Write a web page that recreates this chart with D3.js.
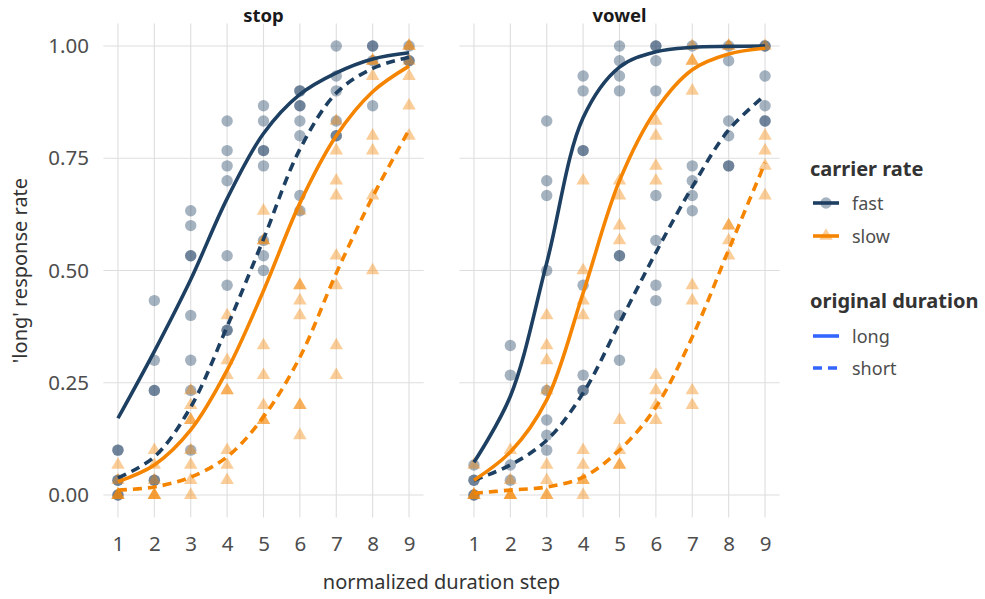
<!DOCTYPE html>
<html>
<head>
<meta charset="utf-8">
<script src="https://cdn.jsdelivr.net/npm/d3@7"></script>
<style>
  body { margin: 0; background: #fff; }
  text { font-family: "Noto Sans", "Open Sans", sans-serif; }
</style>
</head>
<body>
<script>
// facetted psychometric curves, one panel per segment type

var width = 985;
var height = 599;

var steps = [1, 2, 3, 4, 5, 6, 7, 8, 9];
var panels = ["stop", "vowel"];
var yTicks = [0, 0.25, 0.5, 0.75, 1];

// observed response rates, one entry per step: [step, values]
var stopFast = [
  [1, [0.1, 0.1, 0.033, 0.033, 0, 0]],
  [2, [0.433, 0.3, 0.233, 0.233, 0.033, 0.033]],
  [3, [0.633, 0.6, 0.533, 0.533, 0.4, 0.3, 0.233, 0.1]],
  [4, [0.833, 0.767, 0.733, 0.7, 0.533, 0.467, 0.367, 0.367]],
  [5, [0.867, 0.833, 0.767, 0.767, 0.733, 0.567, 0.533, 0.5]],
  [6, [0.9, 0.9, 0.867, 0.867, 0.833, 0.8, 0.667, 0.633]],
  [7, [1, 0.933, 0.9, 0.833, 0.8, 0.8]],
  [8, [1, 1, 0.967, 0.867]],
  [9, [1, 0.967, 0.967]]
];
var stopSlow = [
  [1, [0.067, 0.033, 0, 0, 0]],
  [2, [0.1, 0.067, 0.033, 0, 0, 0]],
  [3, [0.233, 0.2, 0.167, 0.167, 0.1, 0.067, 0.033, 0]],
  [4, [0.4, 0.3, 0.267, 0.233, 0.233, 0.1, 0.067, 0.033]],
  [5, [0.633, 0.567, 0.567, 0.333, 0.267, 0.2, 0.167, 0.167]],
  [6, [0.633, 0.467, 0.467, 0.433, 0.4, 0.2, 0.2, 0.133]],
  [7, [0.833, 0.767, 0.7, 0.667, 0.533, 0.467, 0.333, 0.267]],
  [8, [0.967, 0.967, 0.933, 0.8, 0.767, 0.667, 0.5]],
  [9, [1, 1, 0.967, 0.933, 0.867, 0.8]]
];
var vowelFast = [
  [1, [0.067, 0.033, 0.033, 0, 0]],
  [2, [0.333, 0.267, 0.067, 0.033]],
  [3, [0.833, 0.7, 0.667, 0.5, 0.233, 0.167, 0.133, 0.1]],
  [4, [0.933, 0.9, 0.767, 0.767, 0.467, 0.267, 0.233, 0.233]],
  [5, [1, 0.967, 0.933, 0.9, 0.533, 0.533, 0.4, 0.3]],
  [6, [1, 1, 0.967, 0.9, 0.667, 0.567, 0.467, 0.433]],
  [7, [1, 0.733, 0.7, 0.667, 0.633]],
  [8, [1, 0.967, 0.833, 0.8, 0.733, 0.733]],
  [9, [1, 1, 0.933, 0.867, 0.833, 0.833]]
];
var vowelSlow = [
  [1, [0.067, 0, 0, 0]],
  [2, [0.1, 0.033, 0, 0, 0]],
  [3, [0.4, 0.333, 0.3, 0.233, 0.067, 0.033, 0, 0]],
  [4, [0.7, 0.5, 0.433, 0.4, 0.1, 0.067, 0.033, 0.033, 0]],
  [5, [0.7, 0.667, 0.6, 0.567, 0.167, 0.1, 0.067, 0.067]],
  [6, [0.833, 0.8, 0.733, 0.7, 0.267, 0.233, 0.2, 0.167]],
  [7, [1, 0.967, 0.967, 0.9, 0.467, 0.433, 0.233, 0.2]],
  [8, [1, 1, 0.6, 0.6, 0.567, 0.533]],
  [9, [1, 0.8, 0.767, 0.733, 0.667]]
];

// fitted curves read at each step
var stopFastLong  = [0.171, 0.32, 0.48, 0.66, 0.805, 0.892, 0.94, 0.971, 0.985];
var stopFastShort = [0.038, 0.085, 0.196, 0.375, 0.57, 0.77, 0.895, 0.95, 0.975];
var stopSlowLong  = [0.03, 0.067, 0.145, 0.278, 0.455, 0.65, 0.8, 0.898, 0.955];
var stopSlowShort = [0.011, 0.018, 0.04, 0.085, 0.174, 0.307, 0.494, 0.664, 0.813];
var vowelFastLong  = [0.073, 0.22, 0.517, 0.84, 0.953, 0.987, 0.997, 0.999, 1.0];
var vowelFastShort = [0.033, 0.067, 0.122, 0.227, 0.383, 0.54, 0.686, 0.813, 0.89];
var vowelSlowLong  = [0.033, 0.096, 0.212, 0.45, 0.7, 0.857, 0.947, 0.982, 0.995];
var vowelSlowShort = [0.004, 0.011, 0.018, 0.04, 0.1, 0.196, 0.352, 0.546, 0.74];

var navy = "#1d3f62";
var orange = "#f58500";
var keyBlue = "#3366ff";

var panelData = {
  stop: {
    pts: [{rate: "fast", rows: stopFast}, {rate: "slow", rows: stopSlow}],
    curves: [
      {rate: "fast", dur: "long", v: stopFastLong},
      {rate: "fast", dur: "short", v: stopFastShort},
      {rate: "slow", dur: "long", v: stopSlowLong},
      {rate: "slow", dur: "short", v: stopSlowShort}
    ]
  },
  vowel: {
    pts: [{rate: "fast", rows: vowelFast}, {rate: "slow", rows: vowelSlow}],
    curves: [
      {rate: "fast", dur: "long", v: vowelFastLong},
      {rate: "fast", dur: "short", v: vowelFastShort},
      {rate: "slow", dur: "long", v: vowelSlowLong},
      {rate: "slow", dur: "short", v: vowelSlowShort}
    ]
  }
};

var svg = d3.select("body").append("svg")
    .attr("width", width)
    .attr("height", height);

var panelLeft = [103.4, 459.4];
var panelW = 320.2;

var y = d3.scaleLinear().domain([-0.05, 1.05]).range([517.5, 23.5]);

var colorOf = function(r) { return r == "fast" ? navy : orange; };
var triangle = d3.symbol().type(d3.symbolTriangle).size(78);

panels.forEach(function(name, i) {
  var x = d3.scaleLinear().domain([0.6, 9.4]).range([panelLeft[i], panelLeft[i] + panelW]);
  var g = svg.append("g");

  // grid
  g.selectAll("line.hg").data(yTicks).enter().append("line")
    .attr("x1", x.range()[0]).attr("x2", x.range()[1])
    .attr("y1", function(d) { return y(d); }).attr("y2", function(d) { return y(d); })
    .attr("stroke", "#dedede").attr("stroke-width", 1.1);
  g.selectAll("line.vg").data(steps).enter().append("line")
    .attr("x1", function(d) { return x(d); }).attr("x2", function(d) { return x(d); })
    .attr("y1", y.range()[0]).attr("y2", y.range()[1])
    .attr("stroke", "#dedede").attr("stroke-width", 1.1);

  // x axis labels
  var xAxis = d3.axisBottom(x).tickValues(steps).tickSize(0).tickPadding(0);
  var ax = g.append("g").attr("transform", "translate(0," + 551 + ")").call(xAxis);
  ax.select(".domain").remove();
  ax.selectAll("text").attr("font-size", 20.5).attr("fill", "#4d4d4d")
    .attr("font-family", "'Noto Sans', sans-serif").attr("dy", null).attr("y", 0);

  // strip title
  g.append("text").attr("x", x(5)).attr("y", 22)
    .attr("text-anchor", "middle").attr("font-size", 18.5).attr("font-weight", "bold")
    .attr("fill", "#1a1a1a").text(name);

  // points
  var pd = panelData[name];
  pd.pts.forEach(function(s) {
    var flat = [];
    s.rows.forEach(function(r) {
      r[1].forEach(function(v) { flat.push({step: r[0], v: v}); });
    });
    if (s.rate == "fast") {
      g.selectAll("circle." + s.rate).data(flat).enter().append("circle")
        .attr("cx", function(d) { return x(d.step); })
        .attr("cy", function(d) { return y(d.v); })
        .attr("r", 5.7)
        .attr("fill", navy).attr("opacity", 0.4);
    } else {
      g.selectAll("path.tri").data(flat).enter().append("path")
        .attr("d", triangle)
        .attr("transform", function(d) { return "translate(" + x(d.step) + "," + y(d.v) + ")"; })
        .attr("fill", orange).attr("opacity", 0.4);
    }
  });

  // fitted curves
  var line = d3.line()
    .x(function(d, j) { return x(steps[j]); })
    .y(function(d) { return y(d); })
    .curve(d3.curveCatmullRom.alpha(0.5));
  g.selectAll("path.fit").data(pd.curves).enter().append("path")
    .attr("d", function(d) { return line(d.v); })
    .attr("fill", "none")
    .attr("stroke", function(d) { return colorOf(d.rate); })
    .attr("stroke-width", 3.6)
    .attr("stroke-dasharray", function(d) { return d.dur == "short" ? "9,6" : null; });

  if (i == 0) {
    var yAxis = d3.axisLeft(y).tickValues(yTicks).tickSize(0).tickPadding(0)
      .tickFormat(d3.format(".2f"));
    var ay = g.append("g").attr("transform", "translate(" + 89 + ",0)").call(yAxis);
    ay.select(".domain").remove();
    ay.selectAll("text").attr("font-size", 20.5).attr("fill", "#4d4d4d")
      .attr("font-family", "'Noto Sans', sans-serif");
  }
});

// axis titles
svg.append("text").attr("x", 441.5).attr("y", 589).attr("text-anchor", "middle")
  .attr("font-size", 20).attr("fill", "#333").text("normalized duration step");
svg.append("text").attr("transform", "translate(27,270.5) rotate(-90)")
  .attr("text-anchor", "middle").attr("font-size", 20).attr("fill", "#333")
  .text("'long' response rate");

// legend
var lg = svg.append("g");
var legRates = ["fast", "slow"];
var legDurs = ["long", "short"];
lg.append("text").attr("x", 810).attr("y", 176).attr("font-size", 20)
  .attr("font-weight", "bold").attr("fill", "#333").text("carrier rate");
legRates.forEach(function(r, k) {
  var cy = 203 + k * 33;
  lg.append("line").attr("x1", 813).attr("x2", 839).attr("y1", cy).attr("y2", cy)
    .attr("stroke", colorOf(r)).attr("stroke-width", 3.6);
  if (r == "fast") {
    lg.append("circle").attr("cx", 826).attr("cy", cy).attr("r", 5.7)
      .attr("fill", navy).attr("opacity", 0.4);
  } else {
    lg.append("path").attr("d", triangle)
      .attr("transform", "translate(826," + cy + ")")
      .attr("fill", orange).attr("opacity", 0.4);
  }
  lg.append("text").attr("x", 852).attr("y", cy + 7).attr("font-size", 18)
    .attr("fill", "#4d4d4d").text(r);
});
lg.append("text").attr("x", 810).attr("y", 307.5).attr("font-size", 20)
  .attr("font-weight", "bold").attr("fill", "#333").text("original duration");
legDurs.forEach(function(dd, k) {
  var cy = 336 + k * 32;
  lg.append("line").attr("x1", 813).attr("x2", 839).attr("y1", cy).attr("y2", cy)
    .attr("stroke", keyBlue).attr("stroke-width", 3.6)
    .attr("stroke-dasharray", dd == "short" ? "9,6" : null);
  lg.append("text").attr("x", 852).attr("y", cy + 7).attr("font-size", 18)
    .attr("fill", "#4d4d4d").text(dd);
});
</script>
</body>
</html>
